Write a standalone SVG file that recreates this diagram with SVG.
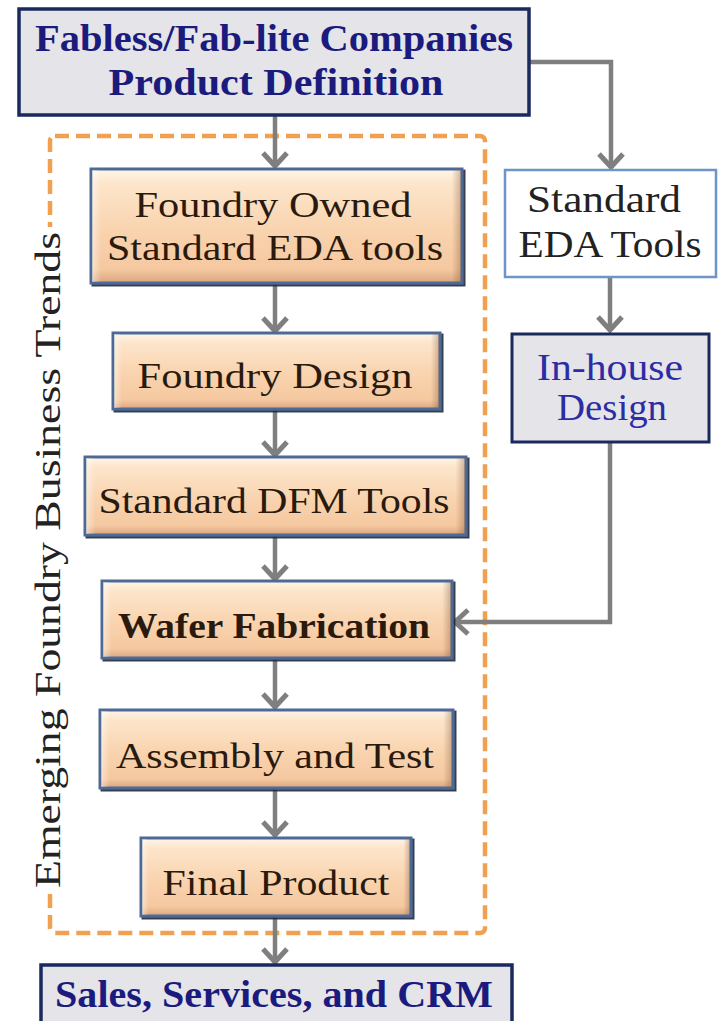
<svg xmlns="http://www.w3.org/2000/svg" width="725" height="1021" viewBox="0 0 725 1021">
  <defs>
    <style>
      .serif { font-family: "Liberation Serif", "Times New Roman", serif; }
      .navy { fill: #1b1b7e; font-weight: bold; }
      .dark { fill: #2a1a0e; }
      .blue { fill: #2c2ca4; }
      .gray-box { fill: #e4e4e9; stroke: #1b2a5e; stroke-width: 3.5; }
      .white-box { fill: #ffffff; stroke: #6d95c8; stroke-width: 2.5; }
      .peach { fill: url(#peachFill); stroke: #4d6a96; stroke-width: 3; filter: url(#edge); }
      .shade { fill: url(#sideShade); stroke: none; }
      .conn { fill: none; stroke: #7f7f7f; stroke-width: 4.5; }
      .frame { fill: none; stroke: #f0a04e; stroke-width: 4.5; stroke-dasharray: 14 7; }
    </style>
    <linearGradient id="peachFill" x1="0" y1="0" x2="0" y2="1">
      <stop offset="0" stop-color="#fff6ea"/>
      <stop offset="0.12" stop-color="#fde6cc"/>
      <stop offset="0.5" stop-color="#f9d5b1"/>
      <stop offset="0.88" stop-color="#f5c8a0"/>
      <stop offset="1" stop-color="#d9a67e"/>
    </linearGradient>
    <linearGradient id="sideShade" x1="0" y1="0" x2="1" y2="0">
      <stop offset="0" stop-color="#ffffff" stop-opacity="0.45"/>
      <stop offset="0.025" stop-color="#ffffff" stop-opacity="0"/>
      <stop offset="0.975" stop-color="#7a4e2e" stop-opacity="0"/>
      <stop offset="1" stop-color="#7a4e2e" stop-opacity="0.35"/>
    </linearGradient>
    <filter id="edge" x="-5%" y="-10%" width="115%" height="130%">
      <feDropShadow dx="2" dy="2" stdDeviation="0.6" flood-color="#1e2a40" flood-opacity="0.9"/>
    </filter>
    <marker id="chev" markerUnits="userSpaceOnUse" markerWidth="34" markerHeight="34" viewBox="-17 -17 34 34" refX="0" refY="0" orient="auto">
      <path d="M-14,-12 L-1,0 L-14,12" fill="none" stroke="#7f7f7f" stroke-width="5" stroke-linejoin="miter"/>
    </marker>
  </defs>

  <rect width="725" height="1021" fill="#ffffff"/>

  <!-- dashed grouping frame with its vertical caption -->
  <g id="trend-frame">
    <rect class="frame" x="50" y="136" width="435" height="797" rx="5"/>
    <rect x="28" y="227" width="44" height="667" fill="#ffffff"/>
    <text class="serif dark" font-size="35" transform="translate(60,560) rotate(-90)" text-anchor="middle" textLength="656" lengthAdjust="spacingAndGlyphs" style="fill:#222">Emerging Foundry Business Trends</text>
  </g>

  <!-- connectors -->
  <g id="connectors">
    <path class="conn" d="M275,115 V167" marker-end="url(#chev)"/>
    <path class="conn" d="M275,283 V332" marker-end="url(#chev)"/>
    <path class="conn" d="M275,409 V456" marker-end="url(#chev)"/>
    <path class="conn" d="M275,535 V580" marker-end="url(#chev)"/>
    <path class="conn" d="M275,658 V708" marker-end="url(#chev)"/>
    <path class="conn" d="M275,788 V836" marker-end="url(#chev)"/>
    <path class="conn" d="M275,916 V963" marker-end="url(#chev)"/>
    <path class="conn" d="M529,62 H611 V168" marker-end="url(#chev)"/>
    <path class="conn" d="M610,277 V331" marker-end="url(#chev)"/>
    <path class="conn" d="M610,442 V622 H454" marker-end="url(#chev)"/>
  </g>

  <g id="product-definition">
    <rect class="gray-box" x="19" y="9" width="510" height="106"/>
    <text class="serif navy" font-size="38" x="274" y="51" text-anchor="middle" textLength="478" lengthAdjust="spacingAndGlyphs">Fabless/Fab-lite Companies</text>
    <text class="serif navy" font-size="38" x="276" y="95" text-anchor="middle" textLength="335" lengthAdjust="spacingAndGlyphs">Product  Definition</text>
  </g>

  <g id="foundry-eda">
    <rect class="peach" x="91" y="169" width="371" height="114"/>
    <rect class="shade" x="92" y="170" width="369" height="112"/>
    <text class="serif dark" font-size="36" x="273" y="217" text-anchor="middle" textLength="277" lengthAdjust="spacingAndGlyphs">Foundry Owned</text>
    <text class="serif dark" font-size="36" x="275" y="260" text-anchor="middle" textLength="336" lengthAdjust="spacingAndGlyphs">Standard EDA tools</text>
  </g>

  <g id="foundry-design">
    <rect class="peach" x="113" y="333" width="327" height="76"/>
    <rect class="shade" x="114" y="334" width="325" height="74"/>
    <text class="serif dark" font-size="36" x="275" y="388" text-anchor="middle" textLength="275" lengthAdjust="spacingAndGlyphs">Foundry Design</text>
  </g>

  <g id="dfm-tools">
    <rect class="peach" x="85" y="457" width="381" height="78"/>
    <rect class="shade" x="86" y="458" width="379" height="76"/>
    <text class="serif dark" font-size="36" x="274" y="513" text-anchor="middle" textLength="351" lengthAdjust="spacingAndGlyphs">Standard DFM Tools</text>
  </g>

  <g id="wafer-fabrication">
    <rect class="peach" x="102" y="581" width="350" height="77"/>
    <rect class="shade" x="103" y="582" width="348" height="75"/>
    <text class="serif dark" font-size="36" font-weight="bold" x="274" y="638" text-anchor="middle" textLength="312" lengthAdjust="spacingAndGlyphs">Wafer Fabrication</text>
  </g>

  <g id="assembly-test">
    <rect class="peach" x="100" y="710" width="353" height="78"/>
    <rect class="shade" x="101" y="711" width="351" height="76"/>
    <text class="serif dark" font-size="36" x="275" y="768" text-anchor="middle" textLength="318" lengthAdjust="spacingAndGlyphs">Assembly and Test</text>
  </g>

  <g id="final-product">
    <rect class="peach" x="141" y="838" width="270" height="78"/>
    <rect class="shade" x="142" y="839" width="268" height="76"/>
    <text class="serif dark" font-size="36" x="276" y="895" text-anchor="middle" textLength="227" lengthAdjust="spacingAndGlyphs">Final Product</text>
  </g>

  <g id="sales-crm">
    <rect class="gray-box" x="41" y="965" width="471" height="70"/>
    <text class="serif navy" font-size="37" x="274" y="1007" text-anchor="middle" textLength="438" lengthAdjust="spacingAndGlyphs">Sales, Services, and CRM</text>
  </g>

  <g id="standard-eda">
    <rect class="white-box" x="505" y="170" width="211" height="107"/>
    <text class="serif dark" font-size="37" x="604" y="212" text-anchor="middle" textLength="154" lengthAdjust="spacingAndGlyphs" style="fill:#222">Standard</text>
    <text class="serif dark" font-size="37" x="610" y="257" text-anchor="middle" textLength="183" lengthAdjust="spacingAndGlyphs" style="fill:#222">EDA Tools</text>
  </g>

  <g id="inhouse-design">
    <rect class="gray-box" x="512" y="334" width="197" height="108" style="stroke-width:3"/>
    <text class="serif blue" font-size="37" x="610" y="380" text-anchor="middle" textLength="146" lengthAdjust="spacingAndGlyphs">In-house</text>
    <text class="serif blue" font-size="37" x="612" y="420" text-anchor="middle" textLength="110" lengthAdjust="spacingAndGlyphs">Design</text>
  </g>
</svg>
